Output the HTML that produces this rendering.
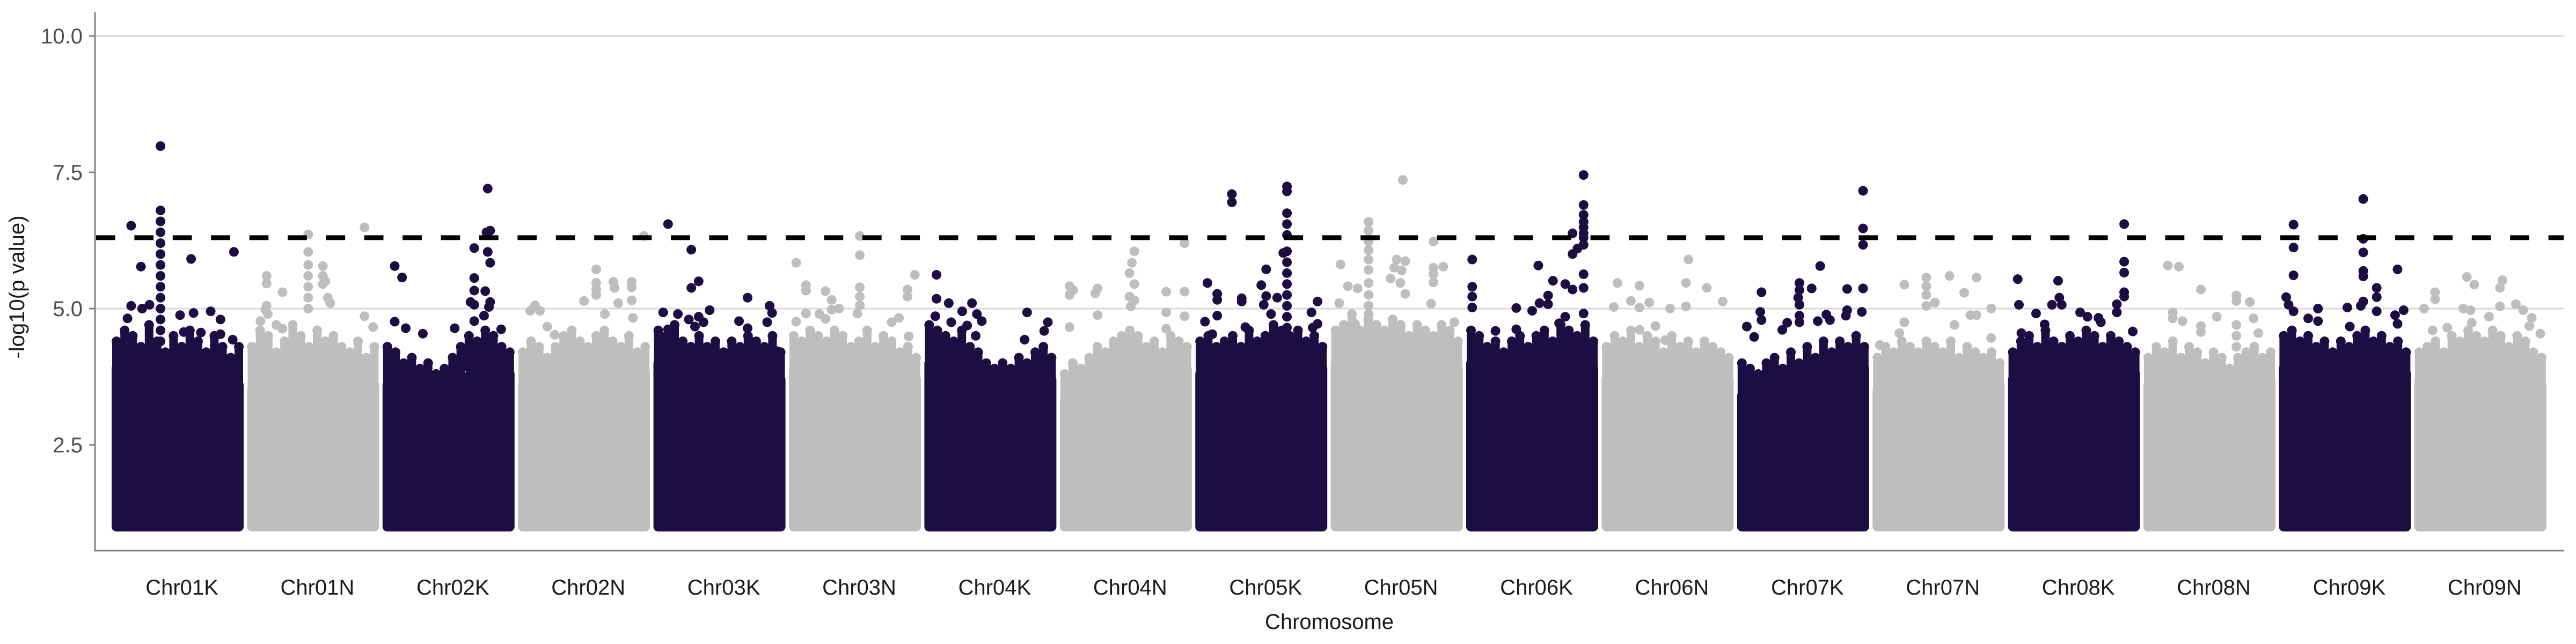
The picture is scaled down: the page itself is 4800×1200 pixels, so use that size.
<!DOCTYPE html>
<html><head><meta charset="utf-8"><title>Manhattan plot</title>
<style>
html,body{margin:0;padding:0;background:#fff;}
svg{display:block;font-family:"Liberation Sans",sans-serif;}
</style></head>
<body>
<svg id="chart" width="4800" height="1200" viewBox="0 0 4800 1200" xmlns="http://www.w3.org/2000/svg">
<g id="grid"></g>
<g id="blocks"></g>
<g id="hits"></g>
<g id="axes"></g>
<text x="45" y="535" font-size="40" fill="#1a1a1a" text-anchor="middle" transform="rotate(-90 45 535)">-log10(p value)</text>
<text x="2477" y="1172" font-size="40" fill="#1a1a1a" text-anchor="middle">Chromosome</text>
</svg>
<script>
const chromosomes = ["Chr01K","Chr01N","Chr02K","Chr02N","Chr03K","Chr03N","Chr04K","Chr04N","Chr05K","Chr05N","Chr06K","Chr06N","Chr07K","Chr07N","Chr08K","Chr08N","Chr09K","Chr09N"];
const yTicks = [2.5, 5.0, 7.5, 10.0];
const yTickLabels = ["2.5","5.0","7.5","10.0"];
const gridValues = [5.0, 10.0];
const threshold = 6.3;
const baseValue = 1.0;
// solid mass top, sampled across each chromosome
const envelopes = [
 [3.9,4.0,4.1,3.9,3.8,3.9,3.8,3.6],
 [3.5,3.8,3.9,3.9,4.0,3.9,3.8,3.6],
 [3.6,3.5,3.4,3.3,3.5,3.9,4.0,3.8],
 [3.6,3.7,3.6,3.9,4.0,3.8,4.0,3.8],
 [4.0,4.0,3.9,3.8,3.7,3.8,3.8,3.7],
 [3.9,4.0,3.9,4.0,3.8,3.8,3.9,3.7],
 [4.0,4.0,3.9,3.7,3.5,3.4,3.5,3.7],
 [3.3,3.5,3.6,3.8,4.0,3.9,3.7,3.9],
 [3.8,3.9,3.8,3.8,4.0,4.1,4.0,3.9],
 [4.0,4.2,4.1,4.1,4.0,4.1,4.0,3.9],
 [4.0,3.8,3.7,3.8,3.9,4.0,4.1,3.9],
 [3.7,3.9,3.8,3.9,3.7,3.8,3.8,3.7],
 [3.4,3.3,3.5,3.4,3.6,3.7,3.8,3.9],
 [3.5,3.7,3.8,3.8,3.7,3.7,3.7,3.6],
 [3.7,3.9,3.9,3.8,3.9,4.0,3.9,3.8],
 [3.6,3.7,3.6,3.6,3.7,3.5,3.6,3.7],
 [3.9,4.0,3.8,3.7,3.8,3.9,3.9,3.8],
 [3.7,3.8,3.8,3.9,3.9,4.0,3.8,3.6]
];
// ragged fringe of points above the solid mass, 16 samples per chromosome
const fringes = [
 [4.4,4.6,4.5,4.3,4.7,4.4,4.2,4.5,4.3,4.6,4.4,4.2,4.5,4.3,4.1,4.3],
 [4.3,4.6,4.5,4.2,4.4,4.7,4.5,4.3,4.6,4.4,4.5,4.3,4.2,4.4,4.1,4.3],
 [4.3,4.2,4.0,4.1,3.9,4.0,3.8,3.9,4.1,4.3,4.5,4.4,4.6,4.5,4.3,4.2],
 [4.2,4.4,4.3,4.1,4.3,4.5,4.6,4.4,4.3,4.5,4.6,4.4,4.3,4.5,4.2,4.3],
 [4.6,4.5,4.7,4.4,4.3,4.5,4.3,4.4,4.2,4.4,4.3,4.5,4.4,4.3,4.5,4.2],
 [4.5,4.4,4.6,4.5,4.4,4.6,4.5,4.3,4.4,4.6,4.3,4.5,4.4,4.2,4.3,4.1],
 [4.7,4.6,4.5,4.4,4.6,4.3,4.2,4.0,3.9,4.0,3.9,4.1,4.0,4.2,4.3,4.1],
 [3.8,4.0,3.9,4.1,4.3,4.2,4.4,4.5,4.6,4.5,4.3,4.4,4.2,4.5,4.4,4.3],
 [4.4,4.5,4.3,4.4,4.5,4.3,4.6,4.4,4.5,4.7,4.6,4.5,4.6,4.4,4.5,4.3],
 [4.6,4.7,4.9,4.6,4.8,4.7,4.6,4.8,4.7,4.5,4.7,4.6,4.5,4.7,4.6,4.4],
 [4.6,4.5,4.3,4.4,4.2,4.4,4.5,4.3,4.5,4.6,4.4,4.7,4.6,4.5,4.7,4.4],
 [4.3,4.5,4.4,4.6,4.3,4.5,4.4,4.2,4.5,4.3,4.4,4.2,4.4,4.3,4.2,4.1],
 [4.0,3.9,3.8,4.0,4.1,3.9,4.2,4.0,4.3,4.1,4.4,4.2,4.4,4.3,4.5,4.3],
 [4.1,4.3,4.2,4.4,4.3,4.2,4.4,4.3,4.2,4.4,4.1,4.3,4.2,4.1,4.2,4.0],
 [4.2,4.4,4.5,4.3,4.6,4.4,4.3,4.5,4.4,4.6,4.5,4.3,4.5,4.4,4.3,4.2],
 [4.1,4.3,4.2,4.4,4.1,4.3,4.2,4.0,4.2,4.1,3.9,4.1,4.2,4.3,4.1,4.2],
 [4.5,4.6,4.4,4.5,4.3,4.4,4.2,4.4,4.3,4.5,4.6,4.4,4.5,4.3,4.4,4.2],
 [4.2,4.3,4.4,4.2,4.5,4.4,4.6,4.5,4.4,4.6,4.5,4.3,4.5,4.4,4.2,4.1]
];
// outlier points per chromosome: [relative position 0-1, -log10 p]
const hitsChr01K = [[.36,7.98],[.36,6.8],[.36,6.6],[.36,6.4],[.36,6.2],[.36,6.0],[.36,5.8],[.36,5.6],[.36,5.4],[.36,5.2],[.36,5.0],[.36,4.8],[.36,4.6],[.36,4.4],[.12,6.52],[.20,5.77],[.61,5.91],[.96,6.04],[.12,5.05],[.21,5.0],[.27,5.07],[.52,4.88],[.63,4.92],[.77,4.95],[.85,4.8],[.95,4.43],[.09,4.82],[.55,4.57],[.69,4.56],[.85,4.53]];
const hitsChr01N = [[.46,6.36],[.46,6.04],[.46,5.8],[.46,5.6],[.46,5.4],[.46,5.2],[.46,5.0],[.92,6.49],[.12,5.6],[.12,5.46],[.25,5.3],[.58,5.78],[.58,5.6],[.58,5.45],[.6,5.5],[.62,5.2],[.64,5.1],[.12,5.05],[.11,4.98],[.13,4.9],[.07,4.77],[.92,4.86],[.99,4.66],[.2,4.7],[.25,4.63]];
const hitsChr02K = [[.82,7.2],[.84,6.43],[.81,6.4],[.71,6.11],[.82,6.04],[.84,5.84],[.06,5.78],[.12,5.57],[.71,5.56],[.71,5.33],[.8,5.32],[.68,5.12],[.71,5.07],[.84,5.12],[.83,5.03],[.79,4.87],[.71,4.77],[.06,4.76],[.15,4.64],[.29,4.54],[.55,4.64],[.93,4.62]];
const hitsChr02N = [[.99,6.33],[.6,5.72],[.6,5.47],[.6,5.35],[.74,5.49],[.75,5.38],[.89,5.49],[.89,5.39],[.5,5.14],[.6,5.25],[.1,5.06],[.06,4.96],[.14,4.96],[.67,4.9],[.89,5.15],[.78,5.1],[.9,4.83],[.2,4.67],[.26,4.52]];
const hitsChr03K = [[.08,6.55],[.27,6.08],[.33,5.5],[.27,5.38],[.73,5.2],[.91,5.05],[.93,4.92],[.89,4.75],[.04,4.93],[.16,4.9],[.25,4.8],[.33,4.85],[.42,4.97],[.37,4.75],[.3,4.67],[.66,4.77],[.73,4.64],[.74,4.43],[.97,4.22],[.08,4.62]];
const hitsChr03N = [[.54,6.33],[.54,5.98],[.02,5.84],[.1,5.43],[.1,5.33],[.26,5.32],[.54,5.39],[.54,5.22],[.54,5.06],[.52,4.91],[.99,5.62],[.93,5.35],[.93,5.22],[.31,5.16],[.31,4.98],[.37,5.0],[.21,4.9],[.26,4.81],[.1,4.91],[.02,4.76],[.86,4.83],[.8,4.75],[.94,4.49]];
const hitsChr04K = [[.06,5.62],[.06,5.18],[.05,4.86],[.16,5.1],[.27,4.95],[.35,5.1],[.39,4.9],[.43,4.77],[.8,4.93],[.97,4.75],[.18,4.75],[.31,4.69],[.38,4.5],[.78,4.43],[.94,4.59]];
const hitsChr04N = [[.98,6.2],[.57,6.05],[.55,5.84],[.53,5.65],[.57,5.45],[.53,5.22],[.57,5.15],[.54,5.04],[.04,5.41],[.04,5.25],[.07,5.34],[.27,5.37],[.25,5.28],[.83,5.31],[.98,5.31],[.83,4.93],[.83,4.63],[.98,4.86],[.27,4.88],[.04,4.66]];
const hitsChr05K = [[.26,7.1],[.26,6.95],[.71,7.24],[.71,7.15],[.71,6.75],[.71,6.55],[.71,6.35],[.71,6.05],[.71,5.85],[.71,5.65],[.71,5.45],[.71,5.25],[.71,5.05],[.71,4.85],[.71,4.65],[.68,6.02],[.54,5.72],[.5,5.43],[.06,5.47],[.04,4.76],[.14,5.27],[.14,5.16],[.14,4.87],[.34,5.19],[.34,5.13],[.54,5.23],[.52,5.07],[.58,4.9],[.63,5.2],[.96,5.13],[.91,4.93],[.96,4.72],[.92,4.65],[.37,4.66],[.1,4.53]];
const hitsChr05N = [[.55,7.36],[.27,6.59],[.27,6.43],[.27,6.23],[.27,6.07],[.27,5.9],[.27,5.71],[.27,5.47],[.27,5.25],[.27,5.05],[.27,4.9],[.8,6.23],[.04,5.81],[.5,5.9],[.57,5.87],[.48,5.75],[.54,5.7],[.45,5.55],[.53,5.47],[.8,5.75],[.8,5.63],[.8,5.48],[.88,5.77],[.1,5.41],[.18,5.37],[.03,5.1],[.57,5.27],[.78,5.09],[.16,4.72],[.97,4.75]];
const hitsChr06K = [[.92,7.45],[.92,6.9],[.92,6.72],[.92,6.59],[.92,6.49],[.92,6.38],[.92,6.3],[.92,6.17],[.92,5.63],[.92,5.38],[.92,4.91],[.83,6.38],[.87,6.1],[.83,6.0],[.01,5.9],[.01,5.4],[.01,5.22],[.01,5.02],[.55,5.79],[.67,5.51],[.77,5.45],[.83,5.35],[.63,5.24],[.63,5.08],[.37,5.01],[.5,4.96],[.56,5.1],[.77,4.85],[.72,4.73],[.2,4.59],[.37,4.62]];
const hitsChr06N = [[.67,5.9],[.09,5.47],[.27,5.42],[.65,5.47],[.82,5.38],[.2,5.14],[.35,5.11],[.95,5.13],[.06,5.03],[.27,5.02],[.52,5.0],[.65,5.04],[.27,4.61],[.4,4.68],[.48,4.42]];
const hitsChr07K = [[.99,7.16],[.99,6.47],[.99,6.17],[.99,5.37],[.98,4.94],[.64,5.78],[.16,5.3],[.15,4.94],[.16,4.79],[.47,5.47],[.47,5.34],[.46,5.2],[.47,5.07],[.47,4.87],[.47,4.75],[.57,5.37],[.86,5.36],[.86,4.97],[.85,4.87],[.69,4.89],[.72,4.79],[.37,4.74],[.33,4.61],[.62,4.77],[.04,4.67],[.1,4.48]];
const hitsChr07N = [[.22,5.44],[.4,5.57],[.4,5.41],[.4,5.25],[.4,5.05],[.59,5.6],[.71,5.29],[.81,5.57],[.47,5.11],[.93,5.0],[.22,4.75],[.18,4.55],[.76,4.88],[.81,4.88],[.63,4.7],[.02,4.33],[.93,4.46]];
const hitsChr08K = [[.91,6.55],[.91,5.86],[.91,5.66],[.91,5.3],[.91,5.22],[.04,5.54],[.05,5.07],[.37,5.51],[.38,5.2],[.32,5.07],[.4,5.07],[.85,5.08],[.85,4.93],[.19,4.91],[.26,4.71],[.55,4.93],[.61,4.85],[.7,4.83],[.72,4.75],[.07,4.55],[.98,4.58]];
const hitsChr08N = [[.16,5.79],[.25,5.77],[.43,5.35],[.72,5.24],[.72,5.14],[.83,5.12],[.2,4.93],[.2,4.82],[.56,4.85],[.86,4.82],[.28,4.77],[.9,4.55],[.43,4.68],[.43,4.57],[.72,4.7],[.72,4.5],[.72,4.3]];
const hitsChr09K = [[.08,6.54],[.08,6.12],[.08,5.61],[.65,7.01],[.65,6.28],[.65,6.03],[.65,5.69],[.65,5.59],[.93,5.72],[.76,5.38],[.76,5.21],[.02,5.21],[.04,5.07],[.08,4.95],[.28,5.0],[.52,5.02],[.65,5.13],[.63,5.05],[.76,4.95],[.98,4.97],[.91,4.88],[.93,4.72],[.2,4.82],[.28,4.77],[.54,4.67]];
const hitsChr09N = [[.39,5.58],[.45,5.44],[.68,5.52],[.66,5.38],[.13,5.3],[.13,5.17],[.04,5.0],[.36,5.0],[.42,4.97],[.66,5.04],[.79,5.08],[.85,4.97],[.57,4.85],[.92,4.83],[.9,4.68],[.11,4.6],[.23,4.65],[.43,4.74],[.99,4.54]];
const hitsByChr = [hitsChr01K,hitsChr01N,hitsChr02K,hitsChr02N,hitsChr03K,hitsChr03N,hitsChr04K,hitsChr04N,hitsChr05K,hitsChr05N,hitsChr06K,hitsChr06N,hitsChr07K,hitsChr07N,hitsChr08K,hitsChr08N,hitsChr09K,hitsChr09N];

const NS = "http://www.w3.org/2000/svg";
const plotL = 177, plotR = 4777, plotT = 23, plotB = 1026;
const R = 9;
const colors = ["#1c0e42", "#bebebe"];
function yScale(v){ return 67 + (10 - v) * 101.6; }
function chrStart(i){ return 208 + i * 252.4; }
const chrW = 246;
function xScale(i, f){ return chrStart(i) + R + f * (chrW - 2 * R); }
function mk(tag, attrs, parent){
  const el = document.createElementNS(NS, tag);
  for (const k in attrs) el.setAttribute(k, attrs[k]);
  parent.appendChild(el);
  return el;
}
const gGrid = document.getElementById("grid");
const gBlocks = document.getElementById("blocks");
const gHits = document.getElementById("hits");
const gAxes = document.getElementById("axes");

gridValues.forEach(v => {
  const ln = mk("line", {x1: plotL, x2: plotR, y1: yScale(v), y2: yScale(v), stroke: "#d9d9d9", "stroke-width": 3}, gGrid);
  
  
});

chromosomes.forEach((name, i) => {
  const env = envelopes[i];
  const col = colors[i % 2];
  const g = mk("g", {}, gBlocks);
  
  
  const n = env.length;
  let d = "M" + xScale(i, 0) + " " + (yScale(baseValue));
  env.forEach((v, k) => { d += " L" + xScale(i, k / (n - 1)) + " " + yScale(v); });
  d += " L" + xScale(i, 1) + " " + yScale(baseValue) + " Z";
  const body = mk("path", {d: d, fill: col, stroke: col, "stroke-width": 2 * R, "stroke-linejoin": "round"}, g);
  
  
  const fr = fringes[i];
  const m = fr.length;
  fr.forEach((v, k) => {
    const f = k / (m - 1);
    const envV = env[Math.round(f * (n - 1))];
    const cx = xScale(i, f);
    const stem = mk("line", {x1: cx, x2: cx, y1: yScale(v), y2: yScale(envV), stroke: col, "stroke-width": 2 * R - 2, "stroke-linecap": "round"}, g);
    
    
    const c = mk("circle", {cx: cx, cy: yScale(v), r: R, fill: col}, g);
    
    
  });
  hitsByChr[i].forEach(p => {
    const c = mk("circle", {cx: xScale(i, p[0]), cy: yScale(p[1]), r: R, fill: col}, gHits);
    
    
  });
  const t = mk("text", {x: chrStart(i) + chrW / 2 + 8, y: 1108, "font-size": 40, fill: "#1a1a1a", "text-anchor": "middle"}, gAxes);
  t.textContent = name;
  
  
});

const thr = mk("line", {x1: plotL, x2: plotR, y1: yScale(threshold), y2: yScale(threshold), stroke: "#000", "stroke-width": 9, "stroke-dasharray": "35.7 35.7", "stroke-dashoffset": -2}, gAxes);



const ya = mk("line", {x1: plotL, x2: plotL, y1: plotT, y2: plotB + 1.5, stroke: "#808080", "stroke-width": 3}, gAxes);


const xa = mk("line", {x1: plotL - 1.5, x2: plotR, y1: plotB, y2: plotB, stroke: "#808080", "stroke-width": 3}, gAxes);



yTicks.forEach((v, k) => {
  const tk = mk("line", {x1: plotL - 11, x2: plotL, y1: yScale(v), y2: yScale(v), stroke: "#808080", "stroke-width": 3}, gAxes);
  
  
  const t = mk("text", {x: 154, y: yScale(v) + 14, "font-size": 40, fill: "#4d4d4d", "text-anchor": "end"}, gAxes);
  t.textContent = yTickLabels[k];
  
  
});
</script>
</body></html>
